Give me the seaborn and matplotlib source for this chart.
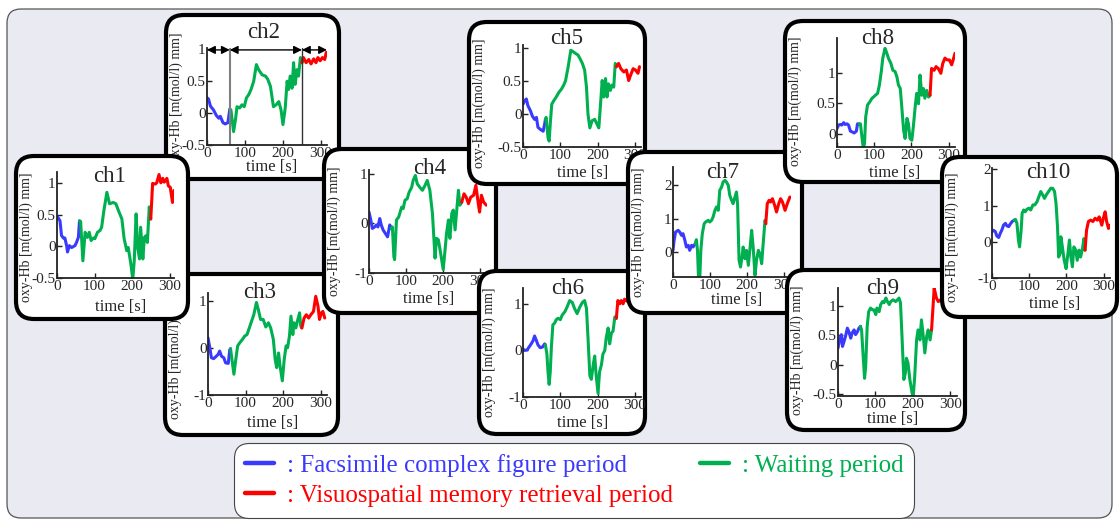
import pandas as pd
import seaborn as sns
import matplotlib.pyplot as plt
from matplotlib.patches import FancyBboxPatch
from matplotlib.lines import Line2D
from matplotlib.ticker import FuncFormatter

W, H = 1120, 525

# period boundaries [s]
facsimile_end = 60
retrieval_start = 250
period_names = ['Facsimile complex figure period', 'Waiting period',
                'Visuospatial memory retrieval period']
period_colors = ['#3a3aff', '#00b050', '#ff0000']

# oxy-Hb time courses (time [s], value)
ch1_t = [0, 2, 8, 12, 17, 21, 26, 28, 33, 39, 48, 52, 57, 60,
         63, 69, 75, 81, 86, 91, 97, 101, 108, 115, 119, 125, 133, 140, 150, 157, 164,
         173, 179, 186, 190, 197, 202, 206, 211, 215, 220, 223, 229, 233, 238, 241, 246,
         250, 255, 262, 266, 272, 277, 282, 286, 293, 297, 302, 308, 312]
ch1_y = [0.45, 0.46, 0.40, 0.17, 0.13, 0.13, 0.0, -0.09, 0.01, -0.02, 0.01, 0.06, 0.14, 0.40,
         0.39, -0.23, 0.22, 0.14, 0.22, 0.09, 0.13, 0.12, 0.22, 0.25, 0.30, 0.56, 0.85, 0.67, 0.69, 0.67, 0.56,
         0.43, 0.12, -0.07, -0.02, -0.28, -0.52, -0.23, 0.51, -0.01, -0.20, 0.30, -0.20, 0.14, 0.17, 0.06, 0.62,
         0.43, 0.99, 0.98, 1.00, 1.13, 1.00, 1.07, 1.01, 1.07, 0.95, 0.93, 0.69, 0.88]

ch2_t = [0, 4, 9, 17, 25, 31, 35, 42, 48, 55, 60,
         63, 70, 75, 79, 86, 92, 98, 104, 110, 116, 123, 130, 136, 145, 154, 160,
         167, 175, 182, 189, 195, 200, 206, 211, 215, 219, 224, 228, 232, 237, 241, 246,
         250, 254, 261, 268, 274, 281, 287, 292, 298, 304, 310, 314]
ch2_y = [0.24, 0.22, 0.11, 0.05, -0.04, -0.08, -0.05, -0.15, -0.17, -0.15, 0.06,
         0.05, -0.29, -0.10, 0.10, 0.08, 0.13, 0.10, 0.24, 0.29, 0.37, 0.50, 0.76, 0.68, 0.60, 0.58, 0.53,
         0.42, 0.10, 0.13, 0.18, 0.05, -0.18, 0.08, 0.50, 0.37, 0.58, 0.39, 0.79, 0.45, 0.68, 0.58, 0.87,
         0.79, 0.87, 0.79, 0.84, 0.77, 0.85, 0.79, 0.87, 0.82, 0.87, 0.84, 0.95]

ch3_t = [0, 4, 9, 15, 22, 27, 31, 36, 42, 47, 54, 58, 60,
         62, 69, 74, 79, 85, 92, 98, 104, 110, 116, 122, 129, 134, 140, 147, 154, 161, 167,
         174, 179, 183, 188, 192, 198, 203, 208, 212, 217, 221, 226, 229, 234, 238, 244, 247,
         250, 256, 262, 268, 274, 281, 287, 293, 297, 302, 306, 311]
ch3_y = [0.21, 0.04, -0.21, -0.23, -0.18, -0.14, -0.07, -0.18, -0.21, -0.32, -0.33, -0.04, -0.02,
         -0.14, -0.56, -0.25, 0.04, 0.11, 0.18, 0.25, 0.28, 0.42, 0.56, 0.70, 0.96, 0.81, 0.60, 0.60, 0.44, 0.53, 0.42,
         0.18, -0.25, -0.42, -0.11, -0.39, -0.70, -0.25, 0.04, 0.0, 0.25, 0.67, 0.28, 0.53, 0.42, 0.56, 0.74, 0.46,
         0.42, 0.63, 0.70, 0.63, 0.70, 0.77, 1.09, 0.88, 0.60, 0.74, 0.77, 0.63]

ch4_t = [0, 4, 9, 15, 20, 24, 29, 33, 38, 44, 50, 56, 60,
         63, 67, 69, 74, 80, 88, 92, 97, 103, 108, 115, 119, 125, 130, 137, 144, 151, 157, 164,
         171, 178, 182, 187, 193, 200, 205, 209, 214, 218, 223, 227, 232, 236, 241, 245,
         250, 256, 262, 268, 274, 282, 288, 294, 298, 303, 309, 316]
ch4_y = [0.23, 0.10, -0.10, -0.07, -0.03, -0.07, 0.10, -0.03, -0.13, -0.20, -0.27, -0.03, -0.10,
         -0.07, -0.67, -0.73, 0.07, 0.13, 0.33, 0.30, 0.47, 0.50, 0.63, 0.73, 0.87, 0.97, 0.80, 0.73, 0.67, 0.77, 0.87, 0.67,
         0.20, -0.70, -0.30, -0.33, -0.60, -0.93, -0.53, -0.20, 0.07, -0.30, 0.20, 0.27, -0.13, 0.23, 0.67, 0.37,
         0.43, 0.60, 0.53, 0.40, 0.53, 0.57, 0.77, 0.43, 0.23, 0.57, 0.43, 0.37]

ch5_t = [0, 4, 9, 13, 20, 25, 31, 36, 40, 46, 54, 58, 60,
         62, 67, 70, 73, 77, 82, 89, 96, 103, 109, 114, 121, 128, 134, 141, 147, 152, 159,
         165, 170, 174, 179, 185, 192, 198, 203, 207, 212, 216, 221, 225, 229, 234, 238, 243, 247,
         250, 256, 262, 270, 277, 283, 288, 295, 301, 308, 312]
ch5_y = [0.15, 0.20, 0.23, 0.13, 0.05, -0.03, -0.08, -0.05, -0.20, -0.23, -0.26, -0.15, -0.08,
         -0.05, -0.36, -0.41, -0.15, 0.15, 0.20, 0.26, 0.33, 0.38, 0.44, 0.51, 0.72, 0.97, 0.95, 0.92, 0.90, 0.85, 0.77,
         0.67, 0.41, 0.0, -0.21, -0.10, -0.08, -0.15, -0.21, 0.10, 0.51, 0.26, 0.54, 0.26, 0.46, 0.36, 0.44, 0.41, 0.77,
         0.72, 0.77, 0.69, 0.64, 0.67, 0.51, 0.59, 0.69, 0.67, 0.62, 0.72]

ch6_t = [0, 4, 11, 16, 22, 27, 31, 36, 40, 46, 52, 58, 60,
         64, 67, 70, 73, 76, 80, 85, 89, 94, 100, 105, 112, 118, 125, 132, 138, 145, 152, 159,
         165, 170, 174, 179, 183, 188, 192, 196, 201, 205, 210, 214, 219, 223, 228, 232, 237, 241, 246,
         250, 254, 259, 263, 268, 272, 280, 290, 300, 310]
ch6_y = [0.03, 0.0, 0.01, 0.07, 0.14, 0.21, 0.31, 0.21, 0.12, 0.06, 0.07, 0.14, 0.12,
         -0.08, -0.46, -0.73, -0.46, 0.07, 0.55, 0.59, 0.66, 0.69, 0.66, 0.76, 0.83, 0.93, 1.07, 1.03, 0.90, 0.79, 0.93, 1.03,
         1.07, 0.90, 0.28, -0.54, -0.62, -0.31, -0.12, -0.54, -0.92, -0.46, -0.31, -0.08, 0.0, 0.28, 0.48, 0.14, 0.38, 0.41, 0.72,
         0.69, 1.07, 1.00, 1.07, 1.00, 1.10, 1.05, 1.10, 1.00, 1.05]

ch7_t = [0, 3, 7, 14, 18, 23, 27, 32, 36, 41, 45, 50, 54, 60,
         63, 66, 69, 72, 75, 79, 84, 88, 95, 99, 104, 108, 113, 117, 122, 126, 131, 135, 140, 144, 149, 153,
         158, 162, 167, 171, 174, 178, 182, 186, 189, 194, 198, 203, 207, 212, 216, 221, 225, 230, 234, 239, 243, 248,
         250, 254, 259, 263, 268, 274, 279, 285, 290, 295, 302, 308, 315]
ch7_y = [0.05, 0.35, 0.60, 0.65, 0.60, 0.50, 0.55, 0.35, 0.15, 0.20, 0.05, 0.20, 0.15, 0.25,
         0.37, 0.05, -0.85, -0.85, 0.05, 0.55, 0.85, 0.90, 0.95, 0.90, 0.95, 1.05, 1.25, 1.35, 1.25, 1.85, 1.95, 2.10, 2.15, 2.10, 2.00, 1.70,
         1.55, 1.45, 1.65, 1.80, 1.45, -0.25, -0.45, -0.15, 0.15, -0.20, 0.05, -0.40, 0.05, 0.65, 0.15, -0.70, -0.25, 0.05, -0.05, -0.35, 0.25, 0.95,
         0.85, 1.45, 1.55, 1.50, 1.60, 1.40, 1.20, 1.45, 1.60, 1.50, 1.25, 1.45, 1.65]

ch8_t = [0, 4, 9, 13, 18, 22, 27, 31, 36, 40, 46, 52, 55, 60,
         63, 65, 69, 71, 74, 77, 82, 88, 94, 98, 103, 109, 114, 119, 123, 129, 134, 138, 145, 150, 156,
         161, 165, 170, 174, 179, 183, 188, 192, 196, 201, 205, 210, 214, 219, 223, 228, 232, 236, 241, 246,
         250, 254, 261, 266, 272, 279, 284, 290, 296, 302, 308, 312, 317]
ch8_y = [0.08, 0.14, 0.15, 0.14, 0.18, 0.15, 0.16, 0.14, 0.04, 0.03, 0.01, 0.04, 0.16, 0.16,
         0.16, 0.05, -0.16, -0.25, -0.16, 0.27, 0.47, 0.52, 0.58, 0.60, 0.63, 0.66, 0.80, 1.02, 1.24, 1.40, 1.32, 1.24, 1.15, 1.04, 1.02,
         0.93, 0.80, 0.74, 0.44, 0.05, -0.08, 0.25, 0.16, -0.08, -0.11, 0.11, 0.44, 0.66, 0.49, 0.96, 0.63, 0.74, 0.58, 0.71, 0.60,
         0.63, 1.07, 1.04, 1.10, 1.07, 0.99, 1.15, 1.24, 1.21, 1.21, 1.13, 1.21, 1.32]

ch9_t = [0, 4, 9, 12, 15, 20, 25, 29, 34, 38, 43, 47, 52, 56, 60,
         63, 67, 71, 74, 78, 82, 87, 92, 96, 101, 104, 110, 114, 119, 123, 128, 132, 137, 141, 147, 154,
         159, 163, 167, 171, 176, 180, 183, 187, 192, 198, 201, 205, 210, 214, 219, 223, 228, 232, 237, 241, 246,
         250, 254, 257, 263, 268, 275, 285, 295, 305, 312]
ch9_y = [0.28, 0.42, 0.51, 0.31, 0.37, 0.48, 0.62, 0.56, 0.45, 0.54, 0.59, 0.51, 0.56, 0.62, 0.65,
         0.59, 0.17, -0.23, -0.03, 0.65, 0.90, 0.96, 0.93, 0.93, 0.85, 0.96, 0.90, 1.02, 1.07, 1.05, 1.13, 1.07, 1.02, 1.07, 1.10, 1.07,
         1.10, 1.13, 1.05, 0.48, -0.25, -0.14, 0.11, 0.03, -0.25, -0.48, -0.54, -0.20, 0.42, 0.59, 0.42, 0.76, 0.48, 0.20, 0.48, 0.59, 0.42,
         0.59, 0.99, 1.30, 1.13, 1.07, 1.10, 1.15, 1.05, 1.10, 1.05]

ch10_t = [0, 4, 9, 13, 18, 22, 27, 31, 36, 40, 45, 49, 54, 60,
          63, 67, 71, 74, 78, 81, 85, 89, 94, 99, 104, 110, 115, 121, 126, 131, 136, 141, 146, 152, 158,
          163, 168, 172, 176, 179, 183, 185, 189, 194, 199, 204, 208, 212, 216, 220, 225, 229, 234, 238, 243, 247,
          250, 254, 259, 265, 271, 277, 283, 288, 295, 299, 304, 308, 313, 317]
ch10_y = [0.28, 0.32, 0.28, 0.16, 0.12, 0.23, 0.34, 0.46, 0.51, 0.44, 0.42, 0.49, 0.56, 0.60,
          0.62, 0.51, 0.05, -0.14, 0.28, 0.79, 0.88, 0.83, 0.90, 0.93, 0.88, 1.02, 1.02, 1.11, 1.25, 1.39, 1.30, 1.20, 1.30, 1.39, 1.48,
          1.48, 1.39, 1.06, 0.42, -0.42, -0.32, 0.14, -0.14, -0.51, -0.74, -0.32, 0.05, -0.42, -0.69, -0.14, -0.23, -0.51, -0.23, -0.42, -0.19, 0.09,
          -0.23, 0.32, 0.56, 0.60, 0.56, 0.65, 0.60, 0.69, 0.46, 0.65, 0.83, 0.56, 0.37, 0.46]

series = {'ch1': (ch1_t, ch1_y), 'ch2': (ch2_t, ch2_y), 'ch3': (ch3_t, ch3_y),
          'ch4': (ch4_t, ch4_y), 'ch5': (ch5_t, ch5_y), 'ch6': (ch6_t, ch6_y),
          'ch7': (ch7_t, ch7_y), 'ch8': (ch8_t, ch8_y), 'ch9': (ch9_t, ch9_y),
          'ch10': (ch10_t, ch10_y)}

# layout in pixels (x0, y0, x1, y1) from the top-left corner
layout = {
    'ch1': dict(box=(16, 156, 188, 319), ax=(57, 172, 174, 278), ylim=(-0.5, 1.17),
                yticks=[-0.5, 0, 0.5, 1], xmax=312, title=(110, 177), xlab=(121, 307)),
    'ch2': dict(box=(166, 15, 339, 179), ax=(207, 48, 327, 145), ylim=(-0.5, 1.02),
                yticks=[-0.5, 0, 0.5, 1], xmax=316, title=(264, 33), xlab=(272, 167)),
    'ch3': dict(box=(165, 274, 338, 435), ax=(208, 293, 327, 395), ylim=(-1, 1.16),
                yticks=[-1, 0, 1], xmax=317, title=(260, 293), xlab=(273, 423)),
    'ch4': dict(box=(324, 149, 496, 313), ax=(369, 170, 487, 273), ylim=(-1, 1.08),
                yticks=[-1, 0, 1], xmax=318, title=(430, 168), xlab=(429, 299)),
    'ch5': dict(box=(469, 22, 645, 184), ax=(523, 45, 641, 147), ylim=(-0.5, 1.05),
                yticks=[-0.5, 0, 0.5, 1], xmax=316, title=(567, 38), xlab=(583, 173)),
    'ch6': dict(box=(479, 271, 645, 434), ax=(523, 288, 641, 397), ylim=(-1, 1.34),
                yticks=[-1, 0, 1], xmax=316, title=(568, 289), xlab=(583, 423)),
    'ch7': dict(box=(628, 152, 802, 313), ax=(673, 167, 791, 277), ylim=(-0.75, 2.55),
                yticks=[0, 1, 2], xmax=318, title=(723, 172), xlab=(737, 300)),
    'ch8': dict(box=(785, 21, 965, 182), ax=(837, 38, 955, 147), ylim=(-0.22, 1.57),
                yticks=[0, 0.5, 1], xmax=317, title=(878, 38), xlab=(895, 173)),
    'ch9': dict(box=(787, 270, 965, 430), ax=(838, 288, 957, 396), ylim=(-0.53, 1.3),
                yticks=[-0.5, 0, 0.5, 1], xmax=318, title=(883, 289), xlab=(893, 419)),
    'ch10': dict(box=(942, 157, 1117, 317), ax=(992, 168, 1110, 278), ylim=(-1, 2.04),
                 yticks=[-1, 0, 1, 2], xmax=317, title=(1048, 172), xlab=(1055, 304)),
}
draw_order = ['ch2', 'ch3', 'ch1', 'ch4', 'ch5', 'ch6', 'ch7', 'ch8', 'ch9', 'ch10']


def to_frame(t, y):
    df = pd.DataFrame({'t': t, 'y': y})
    parts = [df[df.t <= facsimile_end].assign(period=period_names[0]),
             df[(df.t >= facsimile_end) & (df.t <= retrieval_start)].assign(period=period_names[1]),
             df[df.t >= retrieval_start].assign(period=period_names[2])]
    return pd.concat(parts, ignore_index=True)


def pixel_axes(fig, z):
    a = fig.add_axes([0, 0, 1, 1], zorder=z)
    a.set_xlim(0, W)
    a.set_ylim(H, 0)
    a.axis('off')
    return a


sns.set_style('ticks')
plt.rcParams['font.family'] = ['Liberation Serif', 'DejaVu Serif']
plt.rcParams['axes.unicode_minus'] = False

fig = plt.figure(figsize=(W / 100, H / 100), dpi=100)
fig.patch.set_facecolor('white')

base = pixel_axes(fig, 0)
base.add_patch(FancyBboxPatch((7, 9), 1105, 509, boxstyle='round,pad=0,rounding_size=14',
                              fc='#eaeaf2', ec='#555555', lw=0.9))

fmt = FuncFormatter(lambda v, p: f'{v:g}')

for k, name in enumerate(draw_order):
    L = layout[name]
    z = 2 + 2 * k
    frame = pixel_axes(fig, z)
    x0, y0, x1, y1 = L['box']
    frame.add_patch(FancyBboxPatch((x0, y0), x1 - x0, y1 - y0,
                                   boxstyle='round,pad=0,rounding_size=18',
                                   fc='white', ec='black', lw=3))
    frame.text(*L['title'], name, ha='center', va='center', fontsize=16.5)
    frame.text(*L['xlab'], 'time [s]', ha='center', va='center', fontsize=12)
    frame.text(x0 + 10, (y0 + y1) / 2, 'oxy-Hb [m(mol/l) mm]', rotation=90,
               ha='center', va='center', fontsize=10)

    ax0, ay0, ax1, ay1 = L['ax']
    ax = fig.add_axes([ax0 / W, 1 - ay1 / H, (ax1 - ax0) / W, (ay1 - ay0) / H], zorder=z + 1)
    ax.patch.set_alpha(0)
    t, y = series[name]
    sns.lineplot(data=to_frame(t, y), x='t', y='y', hue='period', hue_order=period_names,
                 palette=period_colors, estimator=None, sort=False, legend=False,
                 linewidth=2.2, ax=ax)
    ax.set(xlabel='', ylabel='', xlim=(0, L['xmax']), ylim=L['ylim'],
           xticks=[0, 100, 200, 300], yticks=L['yticks'])
    ax.yaxis.set_major_formatter(fmt)
    sns.despine(ax=ax)
    for s in ['left', 'bottom']:
        ax.spines[s].set_linewidth(1.3)
        ax.spines[s].set_color('#222222')
    ax.tick_params(direction='in', length=3.5, width=1, labelsize=11, color='#222222')
    ax.tick_params(axis='y', pad=1)
    ax.tick_params(axis='x', pad=1.5)

    if name == 'ch2':
        ax.axvline(facsimile_end, color='#7f7f7f', lw=1.5)
        ax.axvline(retrieval_start, color='#333333', lw=1)
        edges = [0, facsimile_end, retrieval_start, L['xmax']]
        for a, b in zip(edges[:-1], edges[1:]):
            ax.annotate('', xy=(b, 0.99), xytext=(a, 0.99),
                        arrowprops=dict(arrowstyle='<|-|>', color='black', lw=1,
                                        mutation_scale=12, shrinkA=0, shrinkB=0),
                        annotation_clip=False)

# legend
top = pixel_axes(fig, 40)
handles = [Line2D([], [], color=period_colors[0], lw=3.2),
           Line2D([], [], color=period_colors[2], lw=3.2),
           Line2D([], [], color=period_colors[1], lw=3.2)]
labels = [': ' + period_names[0], ': ' + period_names[2], ': ' + period_names[1]]
leg = top.legend(handles, labels, ncol=2, loc='upper left',
                 bbox_to_anchor=(234 / W, 1 - 443 / H), bbox_transform=fig.transFigure,
                 fontsize=18, handlelength=1.16, handletextpad=0.52, columnspacing=1.05,
                 labelspacing=0.3, borderpad=0.45, borderaxespad=0, frameon=True,
                 fancybox=True, framealpha=1, labelcolor='linecolor')
leg.get_frame().set_edgecolor('#444444')
leg.get_frame().set_linewidth(0.8)
leg.get_frame().set_boxstyle('round,pad=0,rounding_size=0.6')

fig.savefig('out.png', dpi=100, facecolor='white')
